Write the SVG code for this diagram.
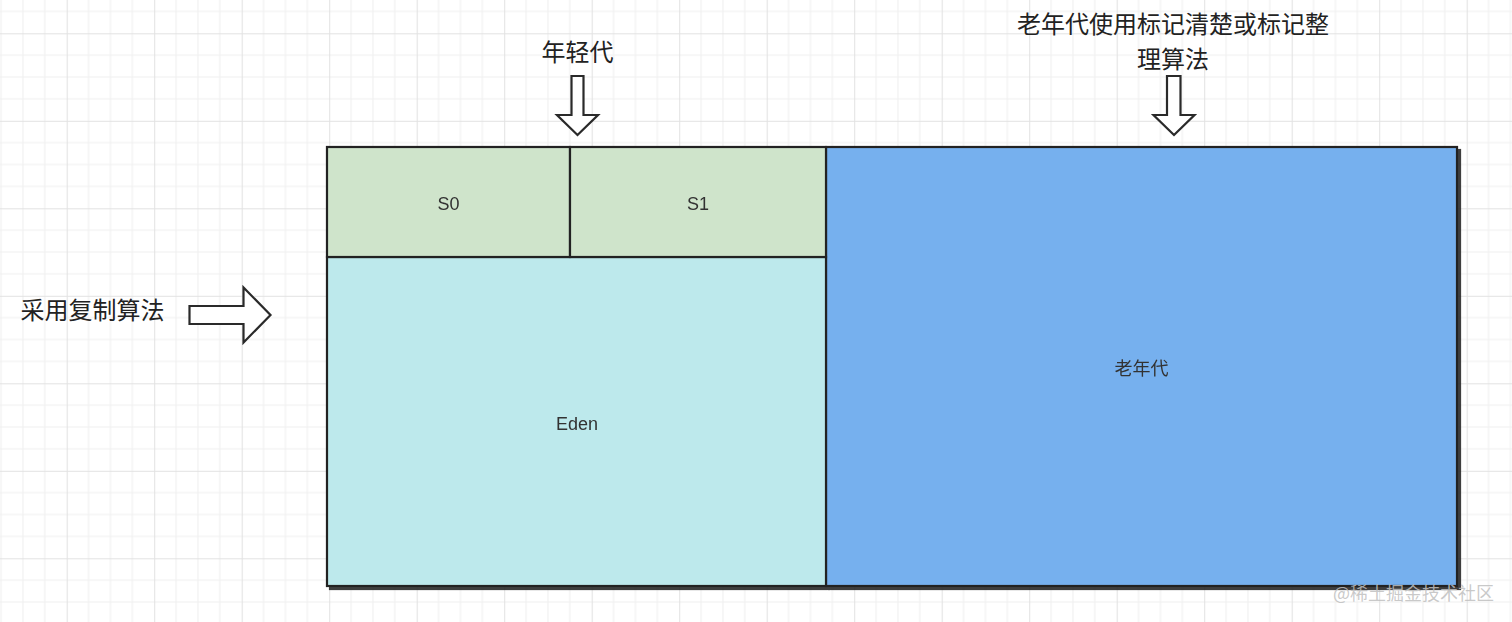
<svg xmlns="http://www.w3.org/2000/svg" width="1512" height="622" viewBox="0 0 1512 622">
  <defs>
    <pattern id="grid" patternUnits="userSpaceOnUse" x="66.7" y="33.3" width="87.5" height="87.5">
      <rect width="87.5" height="87.5" fill="#ffffff"/>
      <path d="M21.875 0V87.5M43.75 0V87.5M65.625 0V87.5M0 21.875H87.5M0 43.75H87.5M0 65.625H87.5" stroke="#efefef" stroke-width="1" fill="none"/>
      <path d="M0.5 0V87.5M0 0.5H87.5" stroke="#e2e2e2" stroke-width="1" fill="none"/>
    </pattern>
    <filter id="shadow" x="-5%" y="-5%" width="110%" height="110%">
      <feDropShadow dx="3" dy="3" stdDeviation="0.6" flood-color="#2a2a2a" flood-opacity="0.9"/>
    </filter>
  </defs>
  <style>
    .box { stroke: #222222; stroke-width: 2.2; }
    .lbl { font-family: "Liberation Sans", Arial, "Noto Sans CJK SC", sans-serif; font-size: 18px; fill: #333333; text-anchor: middle; }
    .cjk { font-family: "Noto Sans CJK SC", "Liberation Sans", sans-serif; font-size: 24px; fill: #222222; text-anchor: middle; }
    .inner { font-family: "Noto Sans CJK SC", "Liberation Sans", sans-serif; font-size: 18px; fill: #333333; text-anchor: middle; }
    .arrow { fill: #ffffff; stroke: #2a2a2a; stroke-width: 2.2; stroke-linejoin: miter; }
    .wm { font-family: "Noto Sans CJK SC", "Liberation Sans", sans-serif; font-size: 18px; fill: #bfbfbf; fill-opacity: 0.85; }
  </style>

  <rect width="1512" height="622" fill="url(#grid)"/>

  <g id="memory" filter="url(#shadow)">
    <g id="old-gen">
      <rect class="box" x="826" y="147" width="631" height="439" fill="#76b0ee"/>
      <text class="inner" x="1141.5" y="375">老年代</text>
    </g>
    <g id="eden">
      <rect class="box" x="327" y="257" width="499" height="329" fill="#bde9ec"/>
      <text class="lbl" x="577" y="430">Eden</text>
    </g>
    <g id="s0">
      <rect class="box" x="327" y="147" width="243" height="110" fill="#cfe4cb"/>
      <text class="lbl" x="448.5" y="210">S0</text>
    </g>
    <g id="s1">
      <rect class="box" x="570" y="147" width="256" height="110" fill="#cfe4cb"/>
      <text class="lbl" x="698" y="210">S1</text>
    </g>
  </g>

  <g id="label-young">
    <text class="cjk" x="577.5" y="61">年轻代</text>
  </g>
  <g id="label-old">
    <text class="cjk" x="1173" y="32.5">老年代使用标记清楚或标记整</text>
    <text class="cjk" x="1173" y="67.5">理算法</text>
  </g>
  <g id="label-copy">
    <text class="cjk" x="92.5" y="319">采用复制算法</text>
  </g>

  <g id="connectors">
    <path class="arrow" d="M571.5 76H583.5V115H598L577.5 135L557 115H571.5Z"/>
    <path class="arrow" d="M1167 76H1180.5V115H1194.5L1174 135L1153.5 115H1167Z"/>
    <path class="arrow" d="M189.5 306H243.5V287.5L270.5 315L243.5 342.5V324H189.5Z"/>
  </g>

  <text class="wm" x="1333" y="600">@稀土掘金技术社区</text>
</svg>
